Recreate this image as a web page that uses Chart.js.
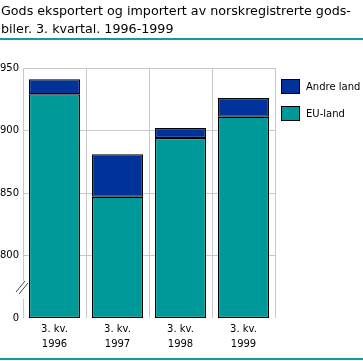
<!DOCTYPE html>
<html>
<head>
<meta charset="utf-8">
<script src="https://cdn.jsdelivr.net/npm/chart.js@4"></script>
<style>
  body { margin: 0; background: #fff; }
  #wrap { position: relative; width: 363px; height: 361px; overflow: hidden; }
  #chart { position: absolute; left: 0; top: 0; }
  .title { position: absolute; left: 1px; top: 2px; font: 12.7px/18px "DejaVu Sans", sans-serif; color: #000; white-space: nowrap; }
  .rule { position: absolute; left: 0; width: 363px; height: 2px; background: #139a9a; }
  .legend { position: absolute; left: 281px; font: 10px "DejaVu Sans", sans-serif; color: #000; }
  .legend span.box { position: absolute; left: 0; top: 0; width: 19px; height: 15px; box-sizing: border-box; border: 1px solid #000; }
  .legend span.txt { position: absolute; left: 25px; top: 0; line-height: 15px; white-space: nowrap; }
</style>
</head>
<body>
<div id="wrap">
  <canvas id="chart" width="363" height="361"></canvas>
  <div class="title">Gods eksportert og importert av norskregistrerte gods-<br>biler. 3. kvartal. 1996-1999</div>
  <div class="rule" style="top:38px"></div>
  <div class="rule" style="top:358px"></div>
  <div class="legend" style="top:79px"><span class="box" style="background:#003399"></span><span class="txt">Andre land</span></div>
  <div class="legend" style="top:106px"><span class="box" style="background:#009999"></span><span class="txt">EU-land</span></div>
</div>
<script>
// 3. kvartal, tonn (aksen er brutt mellom 0 og 800)
const categories = [["3. kv.", "1996"], ["3. kv.", "1997"], ["3. kv.", "1998"], ["3. kv.", "1999"]];
const euLand = [929, 847, 894, 911];
const andreLand = [12, 34, 8, 15];
const yTicks = [0, 800, 850, 900, 950];
const breakValue = 750; // where "0" sits on the broken axis

Chart.defaults.font.family = "DejaVu Sans";
Chart.defaults.font.size = 10;
Chart.defaults.color = "#000";

const gridColor = "#c8c8c8";

// floating bars so both segments start above the axis break
const euBars = euLand.map(v => [breakValue, v]);
const andreBars = euLand.map((v, i) => [v, v + andreLand[i]]);

const axisBreak = {
    id: "axisBreak",
    afterDraw(chart) {
        const ctx = chart.ctx;
        const x = chart.chartArea.left;
        ctx.save();
        ctx.fillStyle = "#fff";
        ctx.fillRect(x - 3, 281, 7, 18);
        ctx.strokeStyle = "#444";
        ctx.lineWidth = 1;
        ctx.beginPath();
        ctx.moveTo(x - 7, 292);
        ctx.lineTo(x + 2, 281);
        ctx.moveTo(x - 4, 294);
        ctx.lineTo(x + 5, 283);
        ctx.stroke();
        ctx.restore();
    }
};

const barStyle = {
    borderColor: "#000",
    borderWidth: 1.2,
    borderSkipped: false,
    grouped: false,
    categoryPercentage: 1,
    barPercentage: 51 / 63
};

new Chart(document.getElementById("chart"), {
    type: "bar",
    data: {
        labels: categories,
        datasets: [
            Object.assign({ label: "EU-land", data: euBars, backgroundColor: "#009999" }, barStyle),
            Object.assign({ label: "Andre land", data: andreBars, backgroundColor: "#003399" }, barStyle)
        ]
    },
    options: {
        responsive: false,
        animation: false,
        layout: { padding: { top: 68, right: 88, left: 0, bottom: 0 } },
        plugins: {
            legend: { display: false },
            tooltip: { enabled: false }
        },
        scales: {
            x: {
                border: { display: false },
                grid: { color: gridColor, drawTicks: false, offset: true },
                ticks: { padding: 4, maxRotation: 0, font: { lineHeight: 1.5 } },
                afterFit: s => { s.height = 43; }
            },
            y: {
                min: breakValue,
                max: yTicks[yTicks.length - 1],
                border: { display: false },
                grid: {
                    drawTicks: false,
                    color: c => (c.tick && c.tick.value === breakValue) ? "rgba(0,0,0,0)" : gridColor
                },
                afterBuildTicks: s => {
                    s.ticks = [breakValue].concat(yTicks.slice(1)).map(v => ({ value: v }));
                },
                ticks: {
                    padding: 4,
                    callback: v => v === breakValue ? String(yTicks[0]) : String(v)
                },
                afterFit: s => { s.width = 23; }
            }
        }
    },
    plugins: [axisBreak]
});
</script>
</body>
</html>
